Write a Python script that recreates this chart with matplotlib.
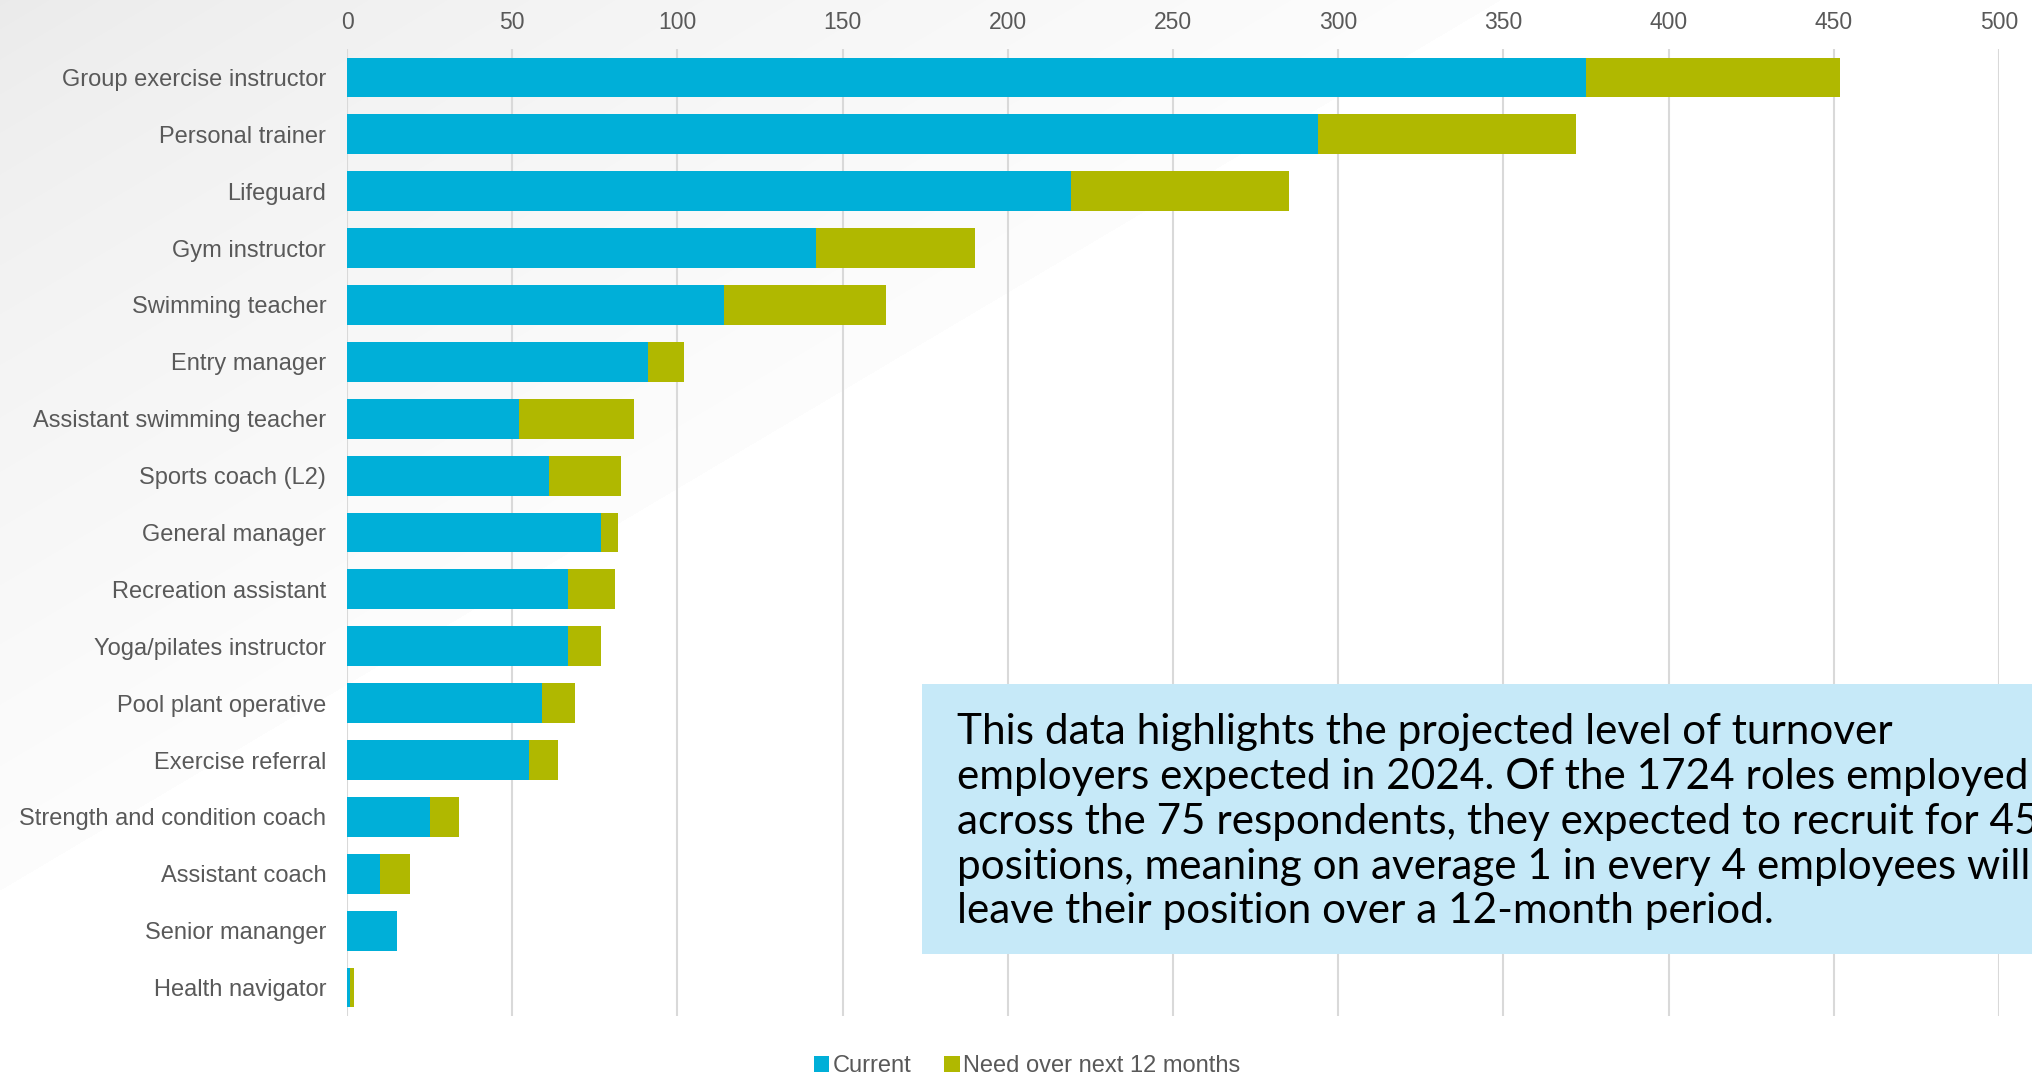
import numpy as np
import matplotlib
matplotlib.use("Agg")
import matplotlib.pyplot as plt
from matplotlib.patches import Rectangle

categories = [
    "Group exercise instructor", "Personal trainer", "Lifeguard", "Gym instructor",
    "Swimming teacher", "Entry manager", "Assistant swimming teacher", "Sports coach (L2)",
    "General manager", "Recreation assistant", "Yoga/pilates instructor",
    "Pool plant operative", "Exercise referral", "Strength and condition coach",
    "Assistant coach", "Senior mananger", "Health navigator",
]
current = [375, 294, 219, 142, 114, 91, 52, 61, 77, 67, 67, 59, 55, 25, 10, 15, 1]
need = [77, 78, 66, 48, 49, 11, 35, 22, 5, 14, 10, 10, 9, 9, 9, 0, 1]
series_names = ["Current", "Need over next 12 months"]
x_ticks = [0, 50, 100, 150, 200, 250, 300, 350, 400, 450, 500]
note_lines = [
    "This data highlights the projected level of turnover",
    "employers expected in 2024. Of the 1724 roles employed",
    "across the 75 respondents, they expected to recruit for 453",
    "positions, meaning on average 1 in every 4 employees will",
    "leave their position over a 12-month period.",
]

W, H = 2032, 1078
fig = plt.figure(figsize=(W / 100, H / 100), dpi=100)
fig.patch.set_facecolor("white")

# background gradient (light grey triangle at top-left)
bg = fig.add_axes([0, 0, 1, 1], zorder=0)
yy, xx = np.mgrid[0:H, 0:W]
d = xx / 1500.0 + yy / 890.0
val = np.where(d < 1, 0.92 + 0.072 * np.power(np.clip(d, 0, 1), 0.75), 1.0)
img = np.dstack([val, val, val])
bg.imshow(img, aspect="auto", extent=(0, W, H, 0), interpolation="bilinear")
bg.set_xlim(0, W)
bg.set_ylim(H, 0)
bg.axis("off")

left, right, top, bottom = 347, 1999, 49, 1016
ax = fig.add_axes([left / W, 1 - bottom / H, (right - left) / W, (bottom - top) / H], zorder=1)
ax.set_facecolor("none")

y = np.arange(len(categories))
c1, c2 = "#00AFD8", "#B0B800"
ax.barh(y, current, height=0.70, color=c1, label=series_names[0], zorder=3)
ax.barh(y, need, left=current, height=0.70, color=c2, label=series_names[1], zorder=3)

ax.set_xlim(0, 500)
ax.set_ylim(len(categories) - 0.5, -0.5)
ax.set_xticks(x_ticks)
ax.set_yticks(y)
ax.set_yticklabels(categories)
ax.xaxis.tick_top()
ax.grid(axis="x", color="#D9D9D9", linewidth=1.5, zorder=0)
ax.set_axisbelow(True)
for s in ax.spines.values():
    s.set_visible(False)
ax.tick_params(axis="x", length=0, pad=10.5, labelsize=16.5, labelcolor="#595959")
ax.tick_params(axis="y", length=0, pad=15, labelsize=17, labelcolor="#595959")
for lab in ax.get_xticklabels() + ax.get_yticklabels():
    lab.set_fontfamily("Liberation Sans")

leg = ax.legend(loc="center", bbox_to_anchor=(1027 / W, 1 - 1066 / H), bbox_transform=fig.transFigure,
                ncol=2, frameon=False, handlelength=0.65, handleheight=0.65, handletextpad=0.15,
                columnspacing=1.4, borderpad=0.2, prop={"family": "Liberation Sans", "size": 17})
for t in leg.get_texts():
    t.set_color("#595959")

# note box
box = Rectangle((922 / W, 1 - 954 / H), (W - 922 + 10) / W, (954 - 684) / H,
                transform=fig.transFigure, facecolor="#C6E9F8", edgecolor="none", zorder=5)
fig.add_artist(box)

fig.canvas.draw()
renderer = fig.canvas.get_renderer()
probe = fig.text(0, 0, note_lines[0], fontsize=27, family="Lato")
wpx = probe.get_window_extent(renderer).width
probe.remove()
fs = 27 * 937.0 / wpx
for i, line in enumerate(note_lines):
    fig.text(957 / W, 1 - (744 + i * 34.6 * W / 1568) / H, line, fontsize=fs, family="Lato",
             color="black", va="baseline", ha="left", zorder=6)

fig.savefig("out.png", dpi=100)
